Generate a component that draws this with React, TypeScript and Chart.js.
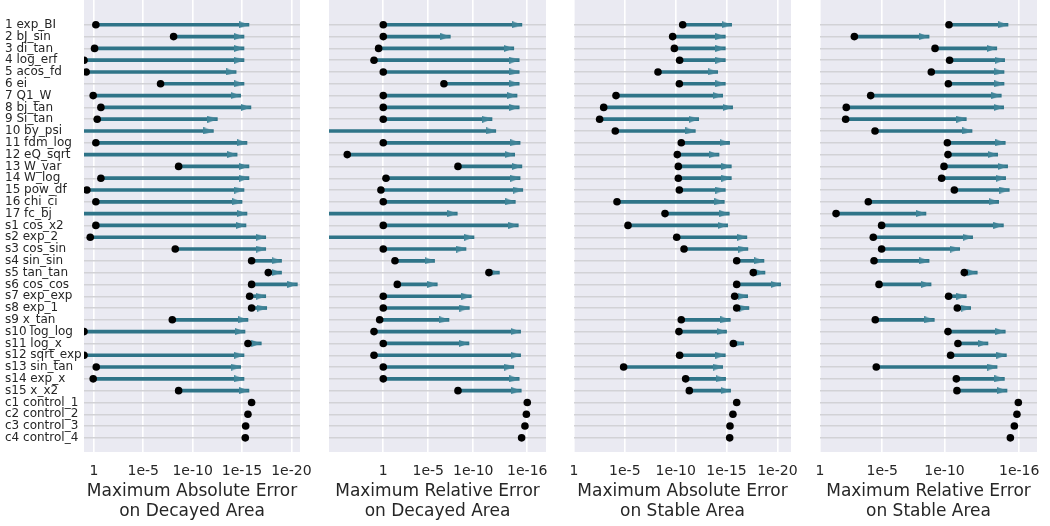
import React, { useEffect, useRef } from 'react';
import { Chart, registerables } from 'chart.js';

Chart.register(...registerables);

// Row labels (top to bottom)
const rowLabels = [
  '1 exp_BI', '2 bJ_sin', '3 di_tan', '4 log_erf', '5 acos_fd', '6 ei', '7 Q1_W', '8 bj_tan',
  '9 Si_tan', '10 by_psi', '11 fdm_log', '12 eQ_sqrt', '13 W_var', '14 W_log', '15 pow_df',
  '16 chi_ci', '17 fc_bj', 's1 cos_x2', 's2 exp_2', 's3 cos_sin', 's4 sin_sin', 's5 tan_tan',
  's6 cos_cos', 's7 exp_exp', 's8 exp_1', 's9 x_tan', 's10 log_log', 's11 log_x', 's12 sqrt_exp',
  's13 sin_tan', 's14 exp_x', 's15 x_x2', 'c1 control_1', 'c2 control_2', 'c3 control_3', 'c4 control_4',
];

// Errors given as log10 exponents (value = 10^exp). Start = dot, end = arrow tip. null = no arrow.
const absDecayedStart = [
  -0.2, -8.07, -0.07, 1.0, 0.78, -6.75, 0.07, -0.71, -0.34, 3, -0.2, 3, -8.58, -0.71, 0.71, -0.2, 3,
  -0.2, 0.37, -8.24, -15.97, -17.66, -15.97, -15.77, -15.97, -7.94, 1.0, -15.6, 1.0, -0.24, 0.07, -8.58,
  -15.97, -15.6, -15.37, -15.33,
];
const absDecayedEnd = [
  -15.7, -15.2, -15.2, -15.2, -14.4, -15.2, -14.86, -15.9, -12.5, -12.1, -15.5, -14.5, -15.7, -15.7, -15.2, -15.0, -15.5,
  -15.4, -17.4, -17.4, -19.0, -19.0, -20.6, -17.4, -17.5, -15.6, -15.3, -16.95, -15.2, -14.86, -15.2, -15.7,
  null, null, null, null,
];

const relDecayedStart = [
  0, 0, 0.52, 1.03, 0, -6.74, 0, 0, 0, 7, 0, 4.0, -8.3, -0.3, 0.26, 0, 7,
  0, 7, 0, -1.3, -11.74, -1.56, 0, 0, 0.4, 1.03, 0, 1.03, 0, 0, -8.3,
  -16.0, -15.9, -15.74, -15.37,
];
const relDecayedEnd = [
  -15.4, -7.45, -14.5, -15.1, -15.1, -15.1, -14.86, -15.1, -12.08, -12.5, -15.2, -14.6, -15.4, -15.2, -15.5, -14.67, -8.22,
  -15.0, -10.08, -9.19, -5.7, -12.9, -6.0, -9.78, -9.56, -7.3, -15.26, -9.52, -15.26, -14.5, -15.1, -15.33,
  null, null, null, null,
];

const absStableStart = [
  -10.69, -9.7, -9.87, -10.39, -8.26, -10.36, -4.13, -2.92, -2.52, -4.06, -10.55, -10.16, -10.26, -10.26, -10.36, -4.23, -8.95,
  -5.31, -10.1, -10.82, -16.0, -17.63, -16.0, -15.8, -16.0, -10.55, -10.32, -15.67, -10.39, -4.88, -10.98, -11.34,
  -16.0, -15.63, -15.34, -15.31,
];
const absStableEnd = [
  -15.5, -14.88, -14.88, -14.88, -14.13, -14.88, -14.62, -15.6, -12.26, -11.93, -15.3, -14.26, -15.47, -15.47, -14.88, -14.78, -15.27,
  -15.11, -17.0, -17.1, -18.68, -18.78, -20.32, -17.08, -17.2, -15.37, -15.0, -16.69, -14.88, -14.62, -14.91, -15.4,
  null, null, null, null,
];

const relStableStart = [
  -10.36, -2.76, -9.24, -10.41, -8.94, -10.31, -4.07, -2.11, -2.06, -4.42, -10.23, -10.28, -9.96, -9.77, -10.79, -3.88, -1.29,
  -4.95, -4.28, -4.95, -4.34, -11.59, -4.74, -10.33, -11.03, -4.44, -10.28, -11.08, -10.49, -4.52, -10.95, -11.0,
  -15.93, -15.82, -15.61, -15.29,
];
const relStableEnd = [
  -15.1, -8.76, -14.2, -14.83, -14.78, -14.78, -14.56, -14.75, -11.75, -12.21, -14.88, -14.27, -15.07, -14.91, -15.2, -14.35, -8.51,
  -14.73, -12.26, -11.22, -8.76, -12.63, -8.92, -11.75, -12.1, -9.18, -14.88, -13.49, -14.97, -14.22, -14.81, -15.02,
  null, null, null, null,
];

// Tick values
const ticksTo20 = [1, 1e-5, 1e-10, 1e-15, 1e-20];
const ticksTo16 = [1, 1e-5, 1e-10, 1e-16];

// Axis title lines
const titleAbsDecayed = ['Maximum Absolute Error', 'on Decayed Area'];
const titleRelDecayed = ['Maximum Relative Error', 'on Decayed Area'];
const titleAbsStable = ['Maximum Absolute Error', 'on Stable Area'];
const titleRelStable = ['Maximum Relative Error', 'on Stable Area'];

// Axis ranges as log10 exponents (left edge, right edge)
const rangeAbsDecayed = [1.0, -20.87];
const rangeRelDecayed = [6.03, -18.08];
const rangeAbsStable = [0, -21.34];
const rangeRelStable = [0, -17.43];

const SHAFT = '#2f7488';
const HEAD = '#3f8498';
const TEXT = '#262626';
const BG = '#EAEAF2';
const H = 526;
const PLOT_BOTTOM = 452;

function makeHead(color: string) {
  const L = 10;
  const W = 7;
  const c = document.createElement('canvas');
  c.width = 2 * L;
  c.height = W;
  const g = c.getContext('2d')!;
  g.fillStyle = color;
  g.beginPath();
  g.moveTo(0, 0);
  g.lineTo(L, W / 2);
  g.lineTo(0, W);
  g.closePath();
  g.fill();
  return c;
}

const bgPlugin = {
  id: 'bgPlugin',
  beforeDraw(chart: any) {
    const { ctx, chartArea: a } = chart;
    ctx.save();
    ctx.fillStyle = BG;
    ctx.fillRect(a.left, a.top, a.width, a.height);
    ctx.restore();
  },
};

function fmtTick(v: number) {
  if (v === 1) return '1';
  return '1e' + Math.round(Math.log10(v));
}

type PanelCfg = {
  plotLeft: number;
  plotW: number;
  start: (number | null)[];
  end: (number | null)[];
  range: number[];
  ticks: number[];
  title: string[];
  showY: boolean;
};

function Panel({ cfg }: { cfg: PanelCfg }) {
  const ref = useRef<HTMLCanvasElement>(null);
  const padL = cfg.showY ? 84 : 24;
  const padR = 26;
  const width = padL + cfg.plotW + padR;
  const left = cfg.plotLeft - padL;

  useEffect(() => {
    const head = makeHead(HEAD);
    const shafts: any[] = [];
    const heads: any[] = [];
    const dots: any[] = [];
    rowLabels.forEach((_, i) => {
      const s = cfg.start[i];
      const e = cfg.end[i];
      if (s !== null && s !== undefined) dots.push({ x: Math.pow(10, s), y: i });
      if (e !== null && e !== undefined && s !== null && s !== undefined) {
        shafts.push({ x: [Math.pow(10, e), Math.pow(10, s)], y: i });
        heads.push({ x: Math.pow(10, e), y: i });
      }
    });

    const chart = new Chart(ref.current!, {
      type: 'line',
      data: {
        datasets: [
          {
            type: 'line',
            data: dots,
            showLine: false,
            pointRadius: 3.8,
            pointHoverRadius: 3.8,
            pointBackgroundColor: '#000',
            pointBorderWidth: 0,
            order: 0,
          } as any,
          {
            type: 'line',
            data: heads,
            showLine: false,
            pointStyle: head,
            pointRadius: 5,
            pointHoverRadius: 5,
            order: 1,
          } as any,
          {
            type: 'bar',
            indexAxis: 'y',
            data: shafts,
            backgroundColor: SHAFT,
            borderWidth: 0,
            barThickness: 3,
            clip: 0,
            order: 2,
          } as any,
        ],
      },
      options: {
        animation: false,
        responsive: false,
        devicePixelRatio: 1,
        events: [],
        layout: { autoPadding: false, padding: { left: cfg.showY ? 5 : 24, right: padR, top: 0, bottom: 0 } },
        plugins: { legend: { display: false }, tooltip: { enabled: false } },
        scales: {
          x: {
            type: 'logarithmic',
            reverse: true,
            min: Math.pow(10, cfg.range[1]),
            max: Math.pow(10, cfg.range[0]),
            offset: false,
            beginAtZero: false,
            border: { display: false },
            grid: { color: '#ffffff', lineWidth: 1.6, drawTicks: false, offset: false },
            afterBuildTicks: (scale: any) => {
              scale.ticks = cfg.ticks.map((v) => ({ value: v }));
            },
            afterFit: (scale: any) => {
              scale.height = H - PLOT_BOTTOM;
            },
            ticks: {
              autoSkip: false,
              maxRotation: 0,
              padding: 11,
              color: TEXT,
              font: { family: 'DejaVu Sans', size: 14 },
              callback: (v: any) => fmtTick(Number(v)),
            },
            title: {
              display: true,
              text: cfg.title,
              color: TEXT,
              font: { family: 'DejaVu Sans', size: 17, lineHeight: 20 / 17 },
              padding: { top: 0, bottom: 4 },
            },
          },
          y: {
            type: 'linear',
            reverse: true,
            min: -2.1,
            max: 36.2,
            offset: false,
            border: { display: false },
            grid: { color: '#d2d2d6', lineWidth: 1.4, drawTicks: false, offset: false },
            afterBuildTicks: (scale: any) => {
              scale.ticks = rowLabels.map((_, i) => ({ value: i }));
            },
            afterFit: (scale: any) => {
              scale.width = cfg.showY ? 79 : 0;
              scale.paddingTop = 0;
              scale.paddingBottom = 0;
            },
            ticks: {
              display: cfg.showY,
              autoSkip: false,
              crossAlign: 'far',
              padding: 0,
              color: TEXT,
              font: { family: 'DejaVu Sans', size: 12 },
              callback: (v: any) => rowLabels[Number(v)] ?? '',
            },
          },
        },
      } as any,
      plugins: [bgPlugin],
    });
    return () => chart.destroy();
  }, []);

  return (
    <canvas
      ref={ref}
      width={width}
      height={H}
      style={{ position: 'absolute', left, top: 0, width, height: H }}
    />
  );
}

const panels: PanelCfg[] = [
  { plotLeft: 84, plotW: 216, start: absDecayedStart, end: absDecayedEnd, range: rangeAbsDecayed, ticks: ticksTo20, title: titleAbsDecayed, showY: true },
  { plotLeft: 329, plotW: 217, start: relDecayedStart, end: relDecayedEnd, range: rangeRelDecayed, ticks: ticksTo16, title: titleRelDecayed, showY: false },
  { plotLeft: 574, plotW: 217, start: absStableStart, end: absStableEnd, range: rangeAbsStable, ticks: ticksTo20, title: titleAbsStable, showY: false },
  { plotLeft: 820, plotW: 217, start: relStableStart, end: relStableEnd, range: rangeRelStable, ticks: ticksTo16, title: titleRelStable, showY: false },
];

export default function App() {
  return (
    <div style={{ position: 'absolute', left: 0, top: 0, width: 1050, height: H, background: '#fff' }}>
      {panels.map((p, i) => (
        <Panel key={i} cfg={p} />
      ))}
    </div>
  );
}
